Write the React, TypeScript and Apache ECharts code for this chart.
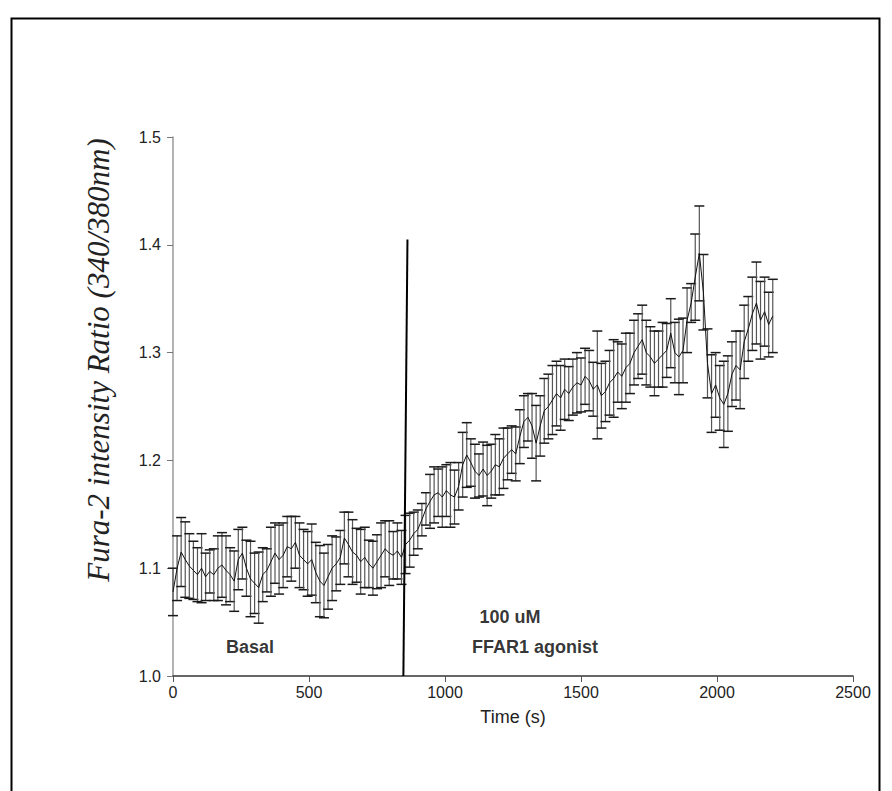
import React, { useEffect, useRef } from "react";
import * as echarts from "echarts";

// Sampling step of the recording (s)
const SAMPLE_STEP = 15;

// Mean Fura-2 ratio per sample
const means = [
  1.078, 1.100, 1.115, 1.108, 1.102, 1.098, 1.094, 1.100, 1.092, 1.097,
  1.094, 1.100, 1.103, 1.098, 1.094, 1.088, 1.108, 1.114, 1.100, 1.090,
  1.086, 1.082, 1.094, 1.098, 1.106, 1.114, 1.108, 1.112, 1.120, 1.118,
  1.124, 1.112, 1.108, 1.104, 1.108, 1.096, 1.088, 1.084, 1.092, 1.100,
  1.104, 1.110, 1.128, 1.122, 1.115, 1.112, 1.106, 1.110, 1.104, 1.100,
  1.106, 1.112, 1.118, 1.114, 1.112, 1.116, 1.110, 1.122, 1.126, 1.132,
  1.136, 1.145, 1.155, 1.162, 1.168, 1.170, 1.166, 1.172, 1.168, 1.166,
  1.176, 1.196, 1.205, 1.198, 1.190, 1.186, 1.192, 1.186, 1.190, 1.196,
  1.194, 1.202, 1.206, 1.210, 1.206, 1.222, 1.236, 1.240, 1.232, 1.216,
  1.232, 1.246, 1.250, 1.256, 1.262, 1.258, 1.266, 1.262, 1.268, 1.272,
  1.270, 1.278, 1.274, 1.266, 1.270, 1.260, 1.264, 1.272, 1.276, 1.282,
  1.278, 1.286, 1.290, 1.300, 1.306, 1.312, 1.300, 1.296, 1.290, 1.294,
  1.298, 1.302, 1.318, 1.300, 1.296, 1.302, 1.330, 1.346, 1.370, 1.392,
  1.356, 1.290, 1.262, 1.270, 1.258, 1.252, 1.262, 1.280, 1.288, 1.284,
  1.310, 1.322, 1.336, 1.346, 1.330, 1.338, 1.326, 1.334,
];

// Error (half bar length) per sample
const errors = [
  0.022, 0.030, 0.032, 0.035, 0.030, 0.027, 0.025, 0.032, 0.022, 0.020,
  0.024, 0.030, 0.030, 0.032, 0.025, 0.028, 0.028, 0.024, 0.026, 0.035,
  0.028, 0.033, 0.025, 0.020, 0.032, 0.028, 0.032, 0.030, 0.028, 0.030,
  0.024, 0.030, 0.028, 0.030, 0.033, 0.028, 0.033, 0.030, 0.030, 0.030,
  0.025, 0.025, 0.024, 0.030, 0.030, 0.025, 0.030, 0.028, 0.022, 0.025,
  0.025, 0.030, 0.026, 0.030, 0.022, 0.026, 0.025, 0.027, 0.025, 0.020,
  0.018, 0.015, 0.015, 0.025, 0.026, 0.022, 0.028, 0.024, 0.030, 0.025,
  0.022, 0.030, 0.030, 0.022, 0.025, 0.020, 0.025, 0.028, 0.025, 0.028,
  0.026, 0.028, 0.024, 0.022, 0.025, 0.025, 0.024, 0.022, 0.030, 0.035,
  0.028, 0.030, 0.030, 0.032, 0.030, 0.030, 0.028, 0.025, 0.026, 0.028,
  0.025, 0.026, 0.028, 0.025, 0.050, 0.030, 0.028, 0.030, 0.036, 0.028,
  0.030, 0.032, 0.028, 0.030, 0.030, 0.032, 0.030, 0.028, 0.030, 0.026,
  0.030, 0.025, 0.032, 0.028, 0.035, 0.030, 0.030, 0.018, 0.040, 0.044,
  0.035, 0.032, 0.036, 0.030, 0.030, 0.040, 0.035, 0.030, 0.032, 0.036,
  0.034, 0.030, 0.034, 0.038, 0.036, 0.032, 0.030, 0.034,
];

const times = means.map((_, i) => i * SAMPLE_STEP);

// Agonist addition line (time, ratio) end points
const agonistLineTimes = [847, 862];
const agonistLineValues = [1.0, 1.405];

// Annotations
const annotationLabels = ["Basal", "100 uM", "FFAR1 agonist"];
const annotationTimes = [283, 1239, 1331];
const annotationValues = [1.027, 1.055, 1.027];

// Axes
const xTicks = [0, 500, 1000, 1500, 2000, 2500];
const yTicks = [1.0, 1.1, 1.2, 1.3, 1.4, 1.5];
const yTitle = "Fura-2 intensity Ratio (340/380nm)";
const xTitle = "Time (s)";

export default function App() {
  const ref = useRef<HTMLDivElement>(null);

  useEffect(() => {
    document.body.style.margin = "0";
    const chart = echarts.init(ref.current!, null, { renderer: "svg" });

    const errData = times.map((t, i) => [t, means[i] - errors[i], means[i] + errors[i]]);
    const meanData = times.map((t, i) => [t, means[i]]);
    const agonistData = agonistLineTimes.map((t, i) => [t, agonistLineValues[i]]);
    const annData = annotationLabels.map((name, i) => ({
      name,
      value: [annotationTimes[i], annotationValues[i]],
    }));

    const renderItem = (params: any, api: any) => {
      const x = api.value(0);
      const lo = api.value(1);
      const hi = api.value(2);
      const top = api.coord([x, hi]);
      const bot = api.coord([x, lo]);
      const w = 5;
      return {
        type: "group",
        children: [
          {
            type: "line",
            shape: { x1: top[0], y1: top[1], x2: bot[0], y2: bot[1] },
            style: { stroke: "#555", lineWidth: 1.2 },
          },
          {
            type: "line",
            shape: { x1: top[0] - w, y1: top[1], x2: top[0] + w, y2: top[1] },
            style: { stroke: "#1a1a1a", lineWidth: 1.5 },
          },
          {
            type: "line",
            shape: { x1: bot[0] - w, y1: bot[1], x2: bot[0] + w, y2: bot[1] },
            style: { stroke: "#1a1a1a", lineWidth: 1.5 },
          },
        ],
      };
    };

    chart.setOption({
      animation: false,
      backgroundColor: "#ffffff",
      grid: { left: 173, right: 39, top: 137, bottom: 115, containLabel: false },
      graphic: [
        {
          type: "rect",
          left: 9,
          top: 16,
          shape: { width: 868, height: 800 },
          style: { fill: "none", stroke: "#000", lineWidth: 2 },
          silent: true,
          z: 100,
        },
        {
          type: "text",
          x: 98,
          y: 360,
          rotation: Math.PI / 2,
          silent: true,
          style: {
            text: yTitle,
            fontFamily: "Liberation Serif, Times New Roman, serif",
            fontStyle: "italic",
            fontSize: 31,
            fill: "#222",
            align: "center",
            verticalAlign: "middle",
          },
        },
      ],
      xAxis: {
        type: "value",
        min: xTicks[0],
        max: xTicks[xTicks.length - 1],
        interval: 500,
        name: xTitle,
        nameLocation: "middle",
        nameGap: 32,
        nameTextStyle: { fontFamily: "Liberation Sans, Arial", fontSize: 18, color: "#222" },
        axisLine: { lineStyle: { color: "#333", width: 1.5 } },
        axisTick: { show: true, inside: false, length: 6, lineStyle: { color: "#555" } },
        axisLabel: {
          margin: 8,
          fontFamily: "Liberation Sans, Arial",
          fontSize: 16,
          color: "#222",
          formatter: (v: number) => String(v),
        },
        splitLine: { show: false },
      },
      yAxis: {
        type: "value",
        min: yTicks[0],
        max: yTicks[yTicks.length - 1],
        interval: 0.1,
        axisLine: { show: true, lineStyle: { color: "#9a9a9a", width: 1.5 } },
        axisTick: { show: true, inside: false, length: 6, lineStyle: { color: "#777" } },
        axisLabel: {
          margin: 12,
          fontFamily: "Liberation Sans, Arial",
          fontSize: 16,
          color: "#222",
          formatter: (v: number) => v.toFixed(1),
        },
        splitLine: { show: false },
      },
      series: [
        {
          type: "custom",
          renderItem,
          data: errData,
          encode: { x: 0, y: [1, 2] },
          z: 2,
          silent: true,
        },
        {
          type: "line",
          data: meanData,
          showSymbol: false,
          symbol: "none",
          lineStyle: { color: "#111", width: 1 },
          z: 3,
          silent: true,
        },
        {
          type: "line",
          data: agonistData,
          showSymbol: false,
          symbol: "none",
          lineStyle: { color: "#000", width: 2 },
          z: 4,
          silent: true,
        },
        {
          type: "scatter",
          data: annData,
          symbolSize: 1,
          itemStyle: { color: "transparent" },
          label: {
            show: true,
            position: "inside",
            formatter: (p: any) => p.name,
            fontFamily: "Liberation Sans, Arial",
            fontWeight: "bold",
            fontSize: 18,
            color: "#000",
          },
          z: 5,
          silent: true,
        },
      ],
    });

    return () => chart.dispose();
  }, []);

  return <div ref={ref} style={{ width: 892, height: 791 }} />;
}
